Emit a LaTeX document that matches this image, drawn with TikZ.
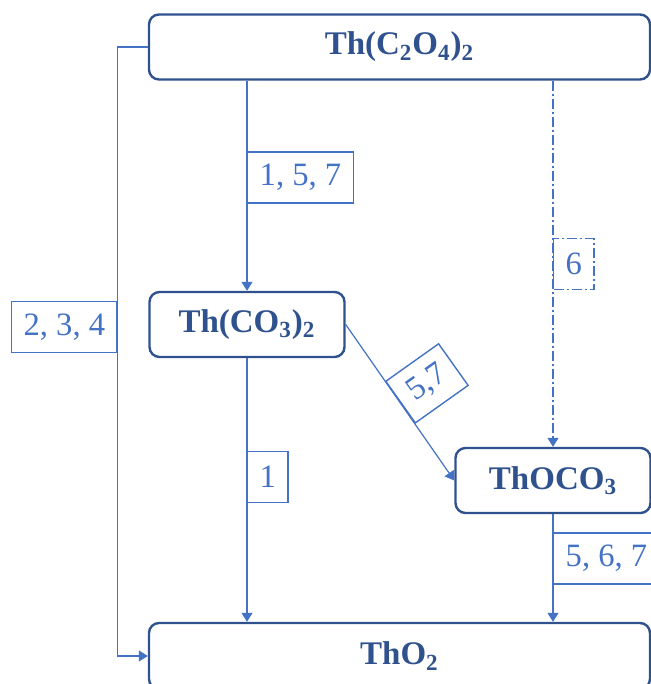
\documentclass[tikz,border=0pt]{standalone}
\usepackage{fontspec}
\setmainfont{Liberation Serif}
\usepackage{tikz}
\usetikzlibrary{
        arrows.meta,
        positioning
    }
\definecolor{boxblue}{RGB}{47,82,143}
\definecolor{lineblue}{RGB}{68,114,196}

\begin{document}
\begin{tikzpicture}
[x=0.5pt, y=-0.5pt,
baseshape/.style={rectangle, rounded corners=5pt, draw=boxblue, line width=1.2pt, text=boxblue, font=\fontsize{16.5}{19}\selectfont\bfseries, minimum height=32.5pt, text centered},
compound/.style={baseshape, minimum width=97.5pt},
widecompound/.style={baseshape, minimum width=250.5pt},
reaction/.style={rectangle, draw=lineblue, line width=0.7pt, text=lineblue, font=\fontsize{16.3}{18}\selectfont, minimum height=25.5pt, inner xsep=6pt, inner ysep=0pt},
dashdot/.style={dash pattern=on 5pt off 1.5pt on 1pt off 1.5pt},
arrow/.style={draw=lineblue, line width=0.6pt, -{Triangle[length=4.5pt, width=5.5pt]}},
]
\useasboundingbox (0,0) rectangle (651,684);
\node (cmp0) [widecompound] at (399.5,47) {Th(C\textsubscript{2}O\textsubscript{4})\textsubscript{2}};
\node (cmp1) [compound] at (247,324.5) {Th(CO\textsubscript{3})\textsubscript{2}};
\node (cmp2) [compound] at (553,480.5) {ThOCO\textsubscript{3}};
\node (cmp3) [widecompound, minimum height=33pt] at (399.5,656) {ThO\textsubscript{2}};

\draw[arrow] (cmp0.south -| cmp1) -- node[pos=0.46, anchor=west, reaction]{1, 5, 7}(cmp1);
\draw[arrow] (cmp1) -- node[pos=0.45, anchor=west, reaction]{1}(cmp3.north -| cmp1);
\draw[arrow, dashdot] (cmp0.south -| cmp2) -- node[pos=0.5, anchor=west, reaction, dashdot]{6}(cmp2);
\draw[arrow] (cmp2) -- node[pos=0.41, anchor=west, reaction]{5, 6, 7}(cmp3.north -| cmp2);
\draw[arrow] (cmp1.east) -- node[pos=0.5, anchor=west, rotate=35.4, reaction]{5,7}(cmp2.west);
\draw[arrow] (cmp0.west) -- ++(-30,0) |- node[pos=0.23, anchor=east, reaction]{2, 3, 4}(cmp3.west);

\end{tikzpicture}
\end{document}
